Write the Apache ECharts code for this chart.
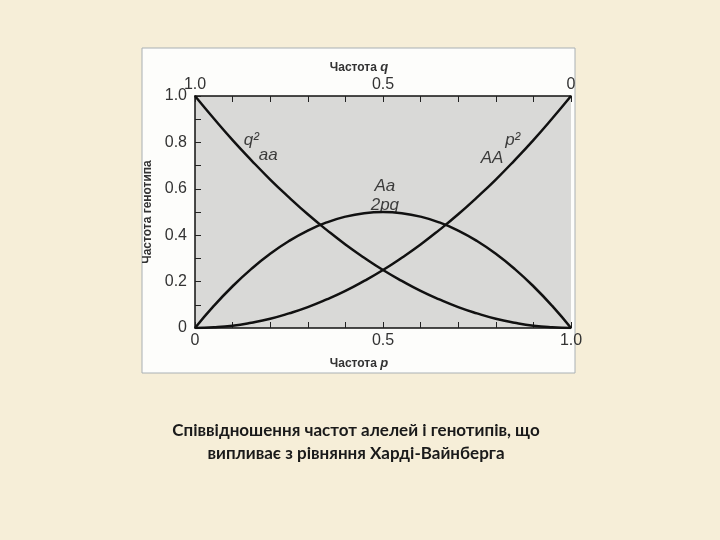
<!DOCTYPE html>
<html><head><meta charset="utf-8">
<script src="https://cdn.jsdelivr.net/npm/echarts@6/dist/echarts.min.js"></script>
<style>html,body{margin:0;padding:0;background:#f6eed8}#c{width:720px;height:540px}</style>
</head><body><div id="c"></div>
<script>
// allele frequency p
const pValues = [0,0.05,0.1,0.15,0.2,0.25,0.3,0.35,0.4,0.45,0.5,0.55,0.6,0.65,0.7,0.75,0.8,0.85,0.9,0.95,1];
// genotype frequencies
const AA_p2 = [0,0.003,0.01,0.023,0.04,0.063,0.09,0.123,0.16,0.203,0.25,0.303,0.36,0.423,0.49,0.563,0.64,0.723,0.81,0.903,1];
const aa_q2 = [1,0.903,0.81,0.723,0.64,0.563,0.49,0.423,0.36,0.303,0.25,0.203,0.16,0.123,0.09,0.063,0.04,0.023,0.01,0.003,0];
const Aa_2pq = [0,0.095,0.18,0.255,0.32,0.375,0.42,0.455,0.48,0.495,0.5,0.495,0.48,0.455,0.42,0.375,0.32,0.255,0.18,0.095,0];
const bottomTickLabels = {0:'0',0.5:'0.5',1:'1.0'};
const topTickLabels = {0:'0',0.5:'0.5',1:'1.0'};
const yTickLabels = {0:'0',0.2:'0.2',0.4:'0.4',0.6:'0.6',0.8:'0.8',1:'1.0'};
const curveLabels = [
  {p:0.15, v:0.81, text:'q²'},
  {p:0.195, v:0.745, text:'aa'},
  {p:0.845, v:0.81, text:'p²'},
  {p:0.79, v:0.73, text:'AA'},
  {p:0.505, v:0.61, text:'Aa'},
  {p:0.505, v:0.53, text:'2pq'}
];
const captionLines = ['Співвідношення частот алелей і генотипів, що', 'випливає з рівняння Харді-Вайнберга'];

const lbl = (m) => (v) => { const k = Math.round(v*10)/10; return m[k] !== undefined ? m[k] : ''; };
const axisCommon = {
  type:'value', min:0, max:1,
  axisLine:{show:true, lineStyle:{color:'#111', width:1.5}},
  axisTick:{show:true, inside:true, length:6, lineStyle:{color:'#222', width:1}},
  minorTick:{show:true, splitNumber:5, length:6, lineStyle:{color:'#222', width:1}},
  splitLine:{show:false},
  axisLabel:{color:'#333', fontFamily:'Liberation Sans', fontSize:16},
  nameTextStyle:{color:'#333', fontFamily:'Liberation Sans', fontSize:12, fontWeight:'bold',
    rich:{i:{fontStyle:'italic', color:'#333', fontFamily:'Liberation Sans', fontSize:13, fontWeight:'bold'}}}
};
const line = (d) => ({type:'line', data:pValues.map((p,i)=>[p,d[i]]), smooth:true, showSymbol:false,
  lineStyle:{color:'#111', width:2.5}, z:3});
const xName = Object.assign({}, axisCommon.nameTextStyle, {padding:[0,48,0,0]});

const chart = echarts.init(document.getElementById('c'), null, {renderer:'canvas'});
chart.setOption({
  backgroundColor:'#f6eed8',
  animation:false,
  graphic:[
    {type:'rect', z:-10, shape:{x:142, y:48, width:433, height:325},
      style:{fill:'#fdfdfb', stroke:'#a9b0b4', lineWidth:1}},
    {type:'text', x:356, y:431, style:{text:captionLines[0], align:'center', verticalAlign:'middle',
      font:'bold 17px Lato', fill:'#1a1a1a'}},
    {type:'text', x:356, y:454, style:{text:captionLines[1], align:'center', verticalAlign:'middle',
      font:'bold 17px Lato', fill:'#1a1a1a'}}
  ],
  grid:{left:195, right:149, top:96, bottom:212, show:true, backgroundColor:'#d9d9d7', borderWidth:0},
  xAxis:[
    Object.assign({}, axisCommon, {position:'bottom', interval:0.5,
      name:'Частота {i|p}', nameLocation:'middle', nameGap:29, nameTextStyle:xName,
      axisLabel:Object.assign({}, axisCommon.axisLabel, {margin:5, formatter:lbl(bottomTickLabels)})}),
    Object.assign({}, axisCommon, {position:'top', inverse:true, interval:0.5,
      name:'Частота {i|q}', nameLocation:'middle', nameGap:22, nameTextStyle:xName,
      axisLabel:Object.assign({}, axisCommon.axisLabel, {margin:3, formatter:lbl(topTickLabels)})})
  ],
  yAxis:Object.assign({}, axisCommon, {interval:0.2,
    minorTick:Object.assign({}, axisCommon.minorTick, {splitNumber:2}),
    name:'Частота генотипа', nameLocation:'middle', nameGap:40,
    axisLabel:Object.assign({}, axisCommon.axisLabel, {margin:8, formatter:lbl(yTickLabels)})}),
  series:[
    line(aa_q2), line(AA_p2), line(Aa_2pq),
    {type:'scatter', symbolSize:0, z:4, data:curveLabels.map(c=>({value:[c.p,c.v], name:c.text})),
      label:{show:true, position:'inside', formatter:(x)=>x.name, color:'#111',
        fontFamily:'Liberation Sans', fontSize:17, fontStyle:'italic'}}
  ]
});
</script></body></html>
